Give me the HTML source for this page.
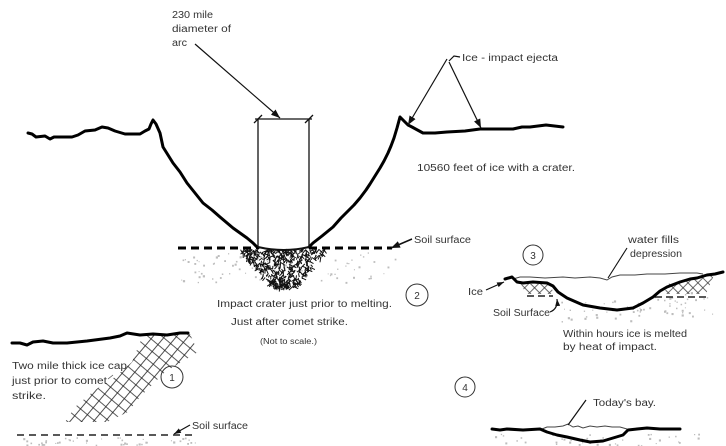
<!DOCTYPE html>
<html><head><meta charset="utf-8"><style>
html,body{margin:0;padding:0;background:#fff;}
svg{display:block}
text{font-family:"Liberation Sans",sans-serif;font-size:10px;fill:#333}
</style></head><body>
<svg id="s" width="726" height="446" viewBox="0 0 726 446" xmlns="http://www.w3.org/2000/svg">
<defs>
<marker id="ah" markerUnits="userSpaceOnUse" markerWidth="10" markerHeight="8" refX="9" refY="4" orient="auto"><path d="M0,0.5 L9,4 L0,7.5 z" fill="#111"/></marker>
<marker id="ahs" markerUnits="userSpaceOnUse" markerWidth="8" markerHeight="6" refX="7" refY="3" orient="auto"><path d="M0,0.5 L7,3 L0,5.5 z" fill="#111"/></marker>
<pattern id="hatch" patternUnits="userSpaceOnUse" width="9" height="9" patternTransform="rotate(40)"><path d="M0,0.5 H9 M0.5,0 V9" stroke="#222" stroke-width="0.8" fill="none"/></pattern>
<pattern id="hatch2" patternUnits="userSpaceOnUse" width="7" height="7" patternTransform="rotate(45)"><path d="M0,0.5 H7 M0.5,0 V7" stroke="#333" stroke-width="0.7" fill="none"/></pattern>
</defs>
<g id="dots" fill="#bdbdbd"></g>

<!-- ===== Main crater (panel 2) ===== -->
<g fill="none" stroke="#000" stroke-width="3" stroke-linejoin="round" stroke-linecap="round">
<path d="M28,133 L32,134 L36,137 L45,136 L50,139 L54,137 L62,137 L72,137 L78,135 L85,131 L95,130 L102,127 L108,128 L115,131 L125,134 L140,134 L145,131 L149,129 L151,124 L153,120 L156,124 L160,133 L163,147 L173,163 L180,172 L187,183 L195,193 L203,203 L212,210 L220,217 L233,228 L240,233 L247,238 L253,243 L258,248"/>
<path d="M309,247 L313,243 L322,236 L333,227 L341,218 L347,212 L354,205 L360,198 L366,190 L370,184 L375,176 L380,168 L384,161 L388,153 L391,146 L394,138 L397,128 L400,117 L403,120 L408,125 L412,127 L423,133 L435,133 L447,132 L465,131 L480,129 L497,129 L513,129 L522,127 L530,127 L546,125 L563,127"/>
</g>
<path d="M258,247 Q284,253 309,247" fill="none" stroke="#111" stroke-width="2"/>
<!-- dashed soil line -->
<path d="M178,248 H258 M309,248 H392" stroke="#000" stroke-width="3" stroke-dasharray="8 5" fill="none"/>
<g id="scr" stroke="#111" stroke-width="1" fill="none"></g>

<!-- rectangle -->
<g stroke="#111" stroke-width="1.3" fill="none">
<path d="M258,119 V247 M309,119 V247 M255,119 H312"/>
<path d="M254,123 L262,115 M305,123 L313,115"/>
</g>
<!-- arc arrow -->
<line x1="195" y1="44" x2="280" y2="118" stroke="#111" stroke-width="1.2" marker-end="url(#ah)"/>
<!-- ejecta arrows -->
<polyline points="460,57 454,56 449,61" fill="none" stroke="#111" stroke-width="1.2"/>
<line x1="447" y1="59" x2="408" y2="125" stroke="#111" stroke-width="1.2" marker-end="url(#ah)"/>
<line x1="449" y1="62" x2="481" y2="128" stroke="#111" stroke-width="1.2" marker-end="url(#ah)"/>
<!-- soil surface arrow -->
<line x1="412" y1="239" x2="391" y2="248" stroke="#111" stroke-width="1.5" marker-end="url(#ah)"/>

<text x="172" y="18" textLength="41" lengthAdjust="spacingAndGlyphs">230 mile</text>
<text x="172" y="32" textLength="59" lengthAdjust="spacingAndGlyphs">diameter of</text>
<text x="172" y="46" textLength="15" lengthAdjust="spacingAndGlyphs">arc</text>
<text x="462" y="61" textLength="96" lengthAdjust="spacingAndGlyphs">Ice - impact ejecta</text>
<text x="417" y="171" textLength="158" lengthAdjust="spacingAndGlyphs">10560 feet of ice with a crater.</text>
<text x="414" y="243" textLength="57" lengthAdjust="spacingAndGlyphs">Soil surface</text>
<text x="217" y="307" textLength="175" lengthAdjust="spacingAndGlyphs">Impact crater just prior to melting.</text>
<text x="231" y="325" textLength="117" lengthAdjust="spacingAndGlyphs">Just after comet strike.</text>
<text x="260" y="344" textLength="57" lengthAdjust="spacingAndGlyphs" style="font-size:8px">(Not to scale.)</text>
<circle cx="417" cy="295" r="11" fill="none" stroke="#333" stroke-width="1"/>
<text x="417" y="299" text-anchor="middle">2</text>

<!-- ===== Panel 1 ===== -->
<polygon points="143,335 190,334 198,352 165,372 140,397 128,412 107,422 65,422 75,407 95,390 115,377 132,362" fill="url(#hatch)"/>
<path d="M12,343 L20,343 L27,345 L33,342 L43,341 L53,343 L67,343 L87,341 L110,338 L120,336 L127,333 L140,335 L153,334 L167,335 L180,333 L188,333" fill="none" stroke="#000" stroke-width="3" stroke-linejoin="round" stroke-linecap="round"/>
<path d="M17,435 H197" stroke="#222" stroke-width="1.5" stroke-dasharray="7 5" fill="none"/>
<line x1="190" y1="425" x2="174" y2="434" stroke="#111" stroke-width="1.2" marker-end="url(#ahs)"/>
<line x1="108" y1="379" x2="113" y2="375" stroke="#555" stroke-width="0.8"/>
<circle cx="172" cy="377" r="11" fill="none" stroke="#333" stroke-width="1"/>
<text x="172" y="381" text-anchor="middle">1</text>
<text x="12" y="369" textLength="115" lengthAdjust="spacingAndGlyphs">Two mile thick ice cap</text>
<text x="12" y="384" textLength="95" lengthAdjust="spacingAndGlyphs">just prior to comet</text>
<text x="12" y="399" textLength="34" lengthAdjust="spacingAndGlyphs">strike.</text>
<text x="192" y="429" textLength="56" lengthAdjust="spacingAndGlyphs">Soil surface</text>

<!-- ===== Panel 3 ===== -->
<polygon points="521,284 550,284 554,294 526,294" fill="url(#hatch2)"/>
<polygon points="668,284 690,279 714,275 706,294 664,294" fill="url(#hatch2)"/>
<path d="M527,296 H553 M655,297 H710" stroke="#222" stroke-width="1.5" stroke-dasharray="7 4" fill="none"/>
<path d="M513,279 L520,277 L530,277 L545,278 L563,277 L575,278 L590,277 L600,278 L607,280 L612,277 L620,275 L635,275 L647,274 L665,274 L680,273 L697,273 L703,274" fill="none" stroke="#444" stroke-width="1"/>
<path d="M505,279 L512,277 L517,282 L523,283 L533,282 L547,283 L553,286 L558,292 L567,298 L583,305 L600,308 L617,310 L633,308 L643,303 L653,297 L660,291 L667,287 L680,282 L690,279 L697,278 L707,275 L715,274 L723,272" fill="none" stroke="#000" stroke-width="3" stroke-linejoin="round" stroke-linecap="round"/>
<line x1="627" y1="248" x2="608" y2="278" stroke="#111" stroke-width="1.1"/>
<line x1="486" y1="290" x2="504" y2="282" stroke="#111" stroke-width="1.2" marker-end="url(#ahs)"/>
<path d="M550,312 Q558,309 557,299" fill="none" stroke="#111" stroke-width="1.2" marker-end="url(#ahs)"/>
<circle cx="533" cy="255" r="10" fill="none" stroke="#333" stroke-width="1"/>
<text x="533" y="259" text-anchor="middle">3</text>
<text x="628" y="243" textLength="51" lengthAdjust="spacingAndGlyphs">water fills</text>
<text x="630" y="257" textLength="52" lengthAdjust="spacingAndGlyphs">depression</text>
<text x="468" y="295" textLength="15" lengthAdjust="spacingAndGlyphs">Ice</text>
<text x="493" y="316" textLength="57" lengthAdjust="spacingAndGlyphs">Soil Surface</text>
<text x="563" y="337" textLength="124" lengthAdjust="spacingAndGlyphs">Within hours ice is melted</text>
<text x="563" y="350" textLength="94" lengthAdjust="spacingAndGlyphs">by heat of impact.</text>

<!-- ===== Panel 4 ===== -->
<circle cx="465" cy="387" r="10" fill="none" stroke="#333" stroke-width="1"/>
<text x="465" y="391" text-anchor="middle">4</text>
<path d="M542,429 L547,427 L555,427 L563,426 L568,424 L573,427 L578,426 L583,428 L590,426 L597,427 L605,426 L612,427 L620,427 L627,429" fill="none" stroke="#444" stroke-width="1"/>
<path d="M492,429 L500,430 L507,429 L523,430 L540,429 L547,432 L557,435 L567,437 L580,440 L590,442 L603,441 L613,438 L623,435 L628,430 L637,429 L647,428 L660,429 L680,429" fill="none" stroke="#000" stroke-width="3" stroke-linejoin="round" stroke-linecap="round"/>
<line x1="586" y1="400" x2="568" y2="425" stroke="#111" stroke-width="1.2"/>
<text x="593" y="406" textLength="63" lengthAdjust="spacingAndGlyphs">Today's bay.</text>
</svg>
<script>
(function(){
var seed=12345;function r(){seed=(seed*16807)%2147483647;return (seed-1)/2147483646;}
var NS="http://www.w3.org/2000/svg";
var d='';
for(var i=0;i<460;i++){
 var t=Math.pow(r(),1.5);
 var y=249+t*38;
 var hw=44*(1-t*0.75);
 var x=284+(r()*2-1)*hw;
 var a=Math.PI/2+(r()*2-1)*1.2;
 var L=2+r()*4;
 d+='M'+x.toFixed(1)+','+y.toFixed(1)+'l'+(Math.cos(a)*L).toFixed(1)+','+(Math.sin(a)*L).toFixed(1);
}
var p=document.createElementNS(NS,'path');p.setAttribute('d',d);
document.getElementById('scr').appendChild(p);
var g=document.getElementById('dots');
function dots(n,x0,x1,y0,y1){for(var i=0;i<n;i++){var e=document.createElementNS(NS,'rect');
 e.setAttribute('x',(x0+r()*(x1-x0)).toFixed(1));e.setAttribute('y',(y0+r()*(y1-y0)).toFixed(1));
 var s=1+r()*1.2;e.setAttribute('width',s.toFixed(1));e.setAttribute('height',s.toFixed(1));g.appendChild(e);}}
dots(90,178,400,252,282);
dots(45,15,200,437,445);
dots(35,560,650,300,322);
dots(30,650,715,292,316);
dots(45,495,700,433,446);
})();
</script>
</body></html>
